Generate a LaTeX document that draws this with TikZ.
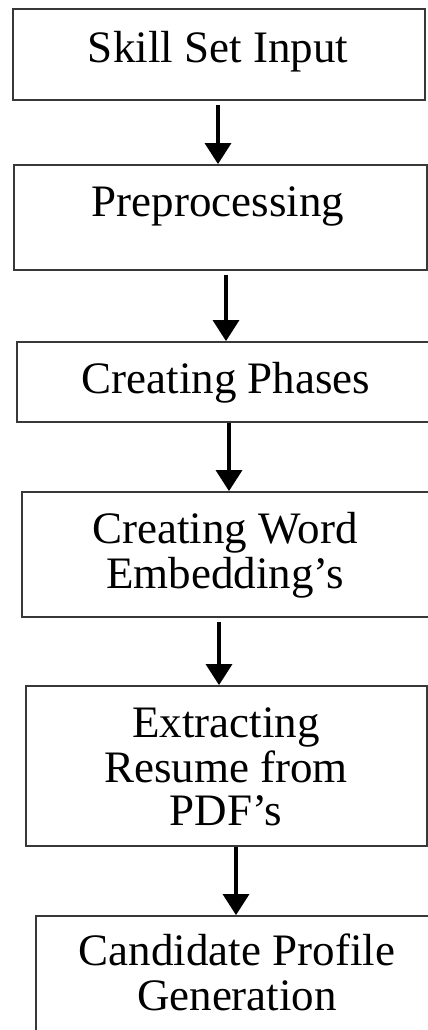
\documentclass[tikz,border=0pt]{standalone}
\usepackage{fontspec}
\setmainfont{Liberation Serif}
\usetikzlibrary{arrows.meta}
\begin{document}
\begin{tikzpicture}[x=1pt,y=-1pt,
  stepbox/.style={draw=black!78,line width=1.8pt,rectangle,inner sep=0pt},
  lbl/.style={anchor=base,inner sep=0pt,font=\fontsize{45}{45}\selectfont},
  flow/.style={line width=3.4pt,-{Triangle[length=21pt,width=26pt]}}]
\useasboundingbox (0,0) rectangle (428,1030);
\clip (0,0) rectangle (428,1030);

% process boxes
\node[stepbox,minimum width=412pt,minimum height=91pt]  (b1) at (219,54.5) {};
\node[stepbox,minimum width=413pt,minimum height=105pt] (b2) at (220.5,217.5) {};
\node[stepbox,minimum width=413pt,minimum height=80pt]  (b3) at (223.5,382) {};
\node[stepbox,minimum width=409pt,minimum height=125pt] (b4) at (226.5,554.5) {};
\node[stepbox,minimum width=401pt,minimum height=160pt] (b5) at (226.5,766) {};
\node[stepbox,minimum width=400pt,minimum height=124pt] (b6) at (236,978) {};

% box labels
\node[lbl] (t1)  at (218,63)  {Skill Set Input};
\node[lbl] (t2)  at (218,216) {Preprocessing};
\node[lbl] (t3)  at (226,393) {Creating Phases};
\node[lbl] (t4a) at (225,543) {Creating Word};
\node[lbl] (t4b) at (225,588) {Embedding’s};
\node[lbl] (t5a) at (226,737) {Extracting};
\node[lbl] (t5b) at (226,782) {Resume from};
\node[lbl] (t5c) at (226,825) {PDF’s};
\node[lbl] (t6a) at (237,965) {Candidate Profile};
\node[lbl] (t6b) at (237,1010){Generation};

% connectors
\draw[flow,shorten <=4pt] ([xshift=-1pt]b1.south) -- ([xshift=-2.5pt]b2.north);
\draw[flow,shorten <=4pt] ([xshift=5.5pt]b2.south) -- ([xshift=2.5pt]b3.north);
\draw[flow] ([xshift=5.5pt]b3.south) -- ([xshift=2.5pt]b4.north);
\draw[flow,shorten <=4pt] ([xshift=-7.5pt]b4.south) -- ([xshift=-7.5pt]b5.north);
\draw[flow] ([xshift=9.5pt]b5.south) -- ([xshift=0pt]b6.north);
\end{tikzpicture}
\end{document}
